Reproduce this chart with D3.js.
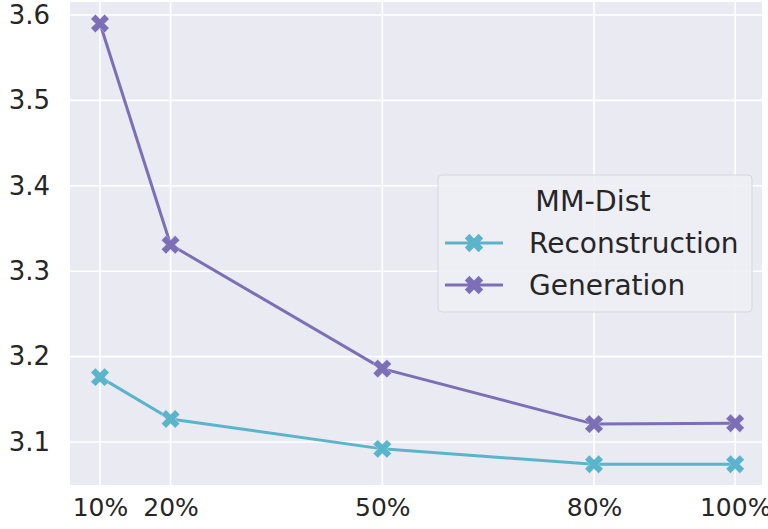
<!DOCTYPE html>
<html><head><meta charset="utf-8">
<script src="https://cdn.jsdelivr.net/npm/d3@7"></script>
<style>body{margin:0;background:#fff}svg{display:block}text{font-family:"DejaVu Sans",sans-serif;fill:#262626}</style>
</head><body>
<script>
const xValues = [10, 20, 50, 80, 100];
const xTickLabels = ["10%", "20%", "50%", "80%", "100%"];
const reconstruction = [3.176, 3.127, 3.092, 3.074, 3.074];
const generation = [3.590, 3.331, 3.186, 3.121, 3.122];
const yTicks = [3.1, 3.2, 3.3, 3.4, 3.5, 3.6];
const seriesNames = ["Reconstruction", "Generation"];
const seriesColors = ["#5ab4cb", "#7d6fb6"];
const legendTitle = "MM-Dist";

const W = 768, H = 529;
const plot = {left: 70, right: 762, top: 2, bottom: 485};
const svg = d3.select("body").append("svg").attr("width", W).attr("height", H);
const x = d3.scaleLinear().domain([5.75, 103.8]).range([plot.left, plot.right]);
const y = d3.scaleLinear().domain([3.0497, 3.6152]).range([plot.bottom, plot.top]);

svg.append("rect").attr("x", plot.left).attr("y", plot.top)
  .attr("width", plot.right - plot.left).attr("height", plot.bottom - plot.top).attr("fill", "#eaeaf2");

// grid
svg.append("g").selectAll("line").data(yTicks).join("line")
  .attr("x1", plot.left).attr("x2", plot.right).attr("y1", d => y(d)).attr("y2", d => y(d))
  .attr("stroke", "#fff").attr("stroke-width", 1.6);
svg.append("g").selectAll("line").data(xValues).join("line")
  .attr("y1", plot.top).attr("y2", plot.bottom).attr("x1", d => x(d)).attr("x2", d => x(d))
  .attr("stroke", "#fff").attr("stroke-width", 1.6);

// axes
const yAxis = d3.axisLeft(y).tickValues(yTicks).tickSize(0).tickPadding(20).tickFormat(d3.format(".1f"));
const gy = svg.append("g").attr("transform", `translate(${plot.left},0)`).call(yAxis);
gy.select(".domain").remove();
gy.selectAll("text").style("font-size", "26px").attr("fill", "#262626");

const xAxis = d3.axisBottom(x).tickValues(xValues).tickSize(0).tickPadding(13)
  .tickFormat((d, i) => xTickLabels[i]);
const gx = svg.append("g").attr("transform", `translate(0,${plot.bottom})`).call(xAxis);
gx.select(".domain").remove();
gx.selectAll("text").style("font-size", "25px").attr("fill", "#262626");

// filled X marker (matplotlib style)
const plusPts = [[-1,-3],[1,-3],[1,-1],[3,-1],[3,1],[1,1],[1,3],[-1,3],[-1,1],[-3,1],[-3,-1],[-1,-1]];
function xMarker(s) {
  const c = Math.cos(Math.PI/4), sn = Math.sin(Math.PI/4);
  const pts = plusPts.map(([a, b]) => [(a*c - b*sn)/6*s, (a*sn + b*c)/6*s]);
  return "M" + pts.map(p => p[0].toFixed(2) + "," + p[1].toFixed(2)).join("L") + "Z";
}
const markerPath = xMarker(19.5);

const allSeries = [reconstruction, generation];
const line = d3.line().x((d, i) => x(xValues[i])).y(d => y(d));
allSeries.forEach((vals, k) => {
  const g = svg.append("g");
  g.append("path").datum(vals).attr("d", line).attr("fill", "none")
    .attr("stroke", seriesColors[k]).attr("stroke-width", 3);
  g.selectAll("path.m").data(vals).join("path").attr("class", "m")
    .attr("d", markerPath)
    .attr("transform", (d, i) => `translate(${x(xValues[i])},${y(d)})`)
    .attr("fill", seriesColors[k]).attr("stroke", "#fff").attr("stroke-width", 0.5).attr("stroke-opacity", 0.6);
});

// legend
const lg = svg.append("g");
lg.append("rect").attr("x", 438).attr("y", 175).attr("width", 314).attr("height", 137).attr("rx", 4)
  .attr("fill", "#eeeef5").attr("fill-opacity", 0.9).attr("stroke", "#d6d6de").attr("stroke-width", 1);
lg.append("text").attr("x", 593).attr("y", 211).attr("text-anchor", "middle")
  .style("font-size", "28.5px").text(legendTitle);
seriesNames.forEach((name, k) => {
  const ly = 243 + k * 42;
  lg.append("line").attr("x1", 445).attr("x2", 503).attr("y1", ly).attr("y2", ly)
    .attr("stroke", seriesColors[k]).attr("stroke-width", 3);
  lg.append("path").attr("d", markerPath).attr("transform", `translate(474,${ly})`)
    .attr("fill", seriesColors[k]);
  lg.append("text").attr("x", 529).attr("y", ly + 10).style("font-size", "28px").text(name);
});
</script>
</body></html>
